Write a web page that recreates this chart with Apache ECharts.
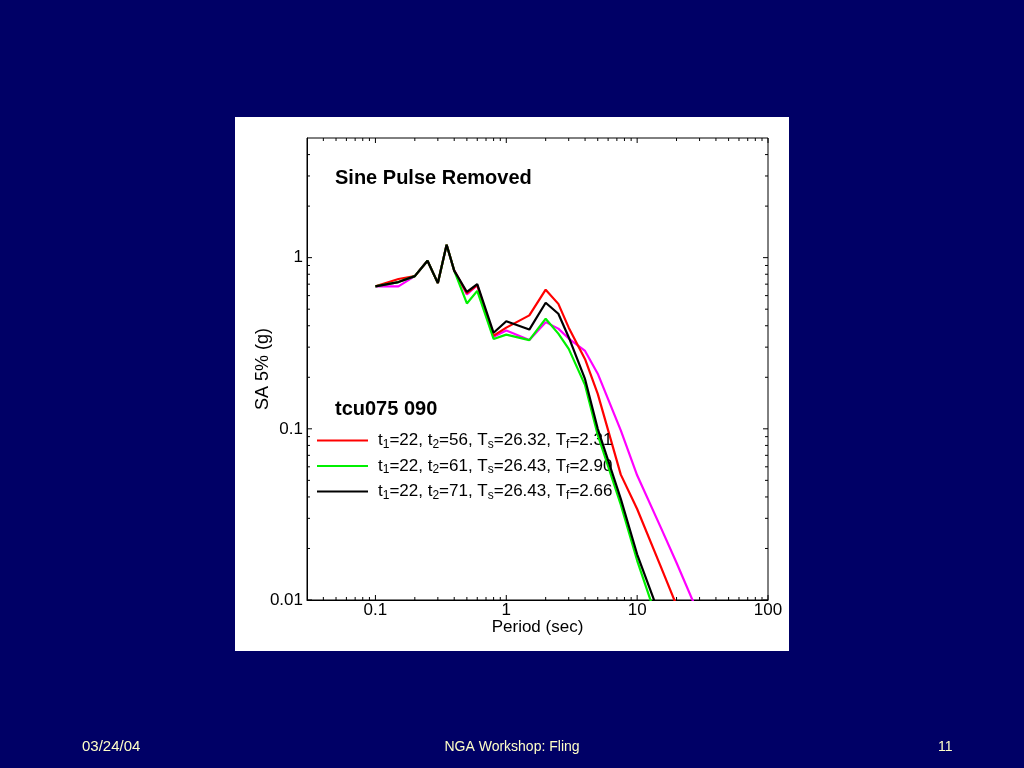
<!DOCTYPE html>
<html>
<head>
<meta charset="utf-8">
<script src="https://cdn.jsdelivr.net/npm/echarts@6/dist/echarts.min.js"></script>
<style>
html,body{margin:0;padding:0;background:#000066;}
#panel{position:absolute;left:235px;top:117px;width:554px;height:534px;background:#ffffff;}
#c{position:absolute;left:0;top:0;width:1024px;height:768px;}
</style>
</head>
<body>
<div id="panel"></div>
<div id="c"></div>
<script>
// ---- data ----
const periods = [0.1, 0.15, 0.2, 0.25, 0.3, 0.35, 0.4, 0.5, 0.6, 0.8, 1.0, 1.5, 2.0, 2.5, 3.0, 4.0, 5.0, 7.5, 10, 15, 20, 30];
const saMagenta = [0.68, 0.68, 0.78, 0.96, 0.71, 1.19, 0.84, 0.61, 0.69, 0.345, 0.375, 0.33, 0.42, 0.385, 0.337, 0.285, 0.21, 0.098, 0.0535, 0.027, 0.0165, 0.008];
const saRed     = [0.68, 0.75, 0.78, 0.96, 0.71, 1.19, 0.84, 0.62, 0.69, 0.35, 0.39, 0.46, 0.65, 0.537, 0.39, 0.255, 0.16, 0.054, 0.034, 0.016, 0.0093, 0.0045];
const saGreen   = [0.68, 0.72, 0.78, 0.96, 0.71, 1.19, 0.84, 0.54, 0.64, 0.335, 0.355, 0.33, 0.44, 0.36, 0.293, 0.18, 0.092, 0.036, 0.017, 0.0068, 0.0035, 0.0015];
const saBlack   = [0.68, 0.72, 0.78, 0.96, 0.71, 1.19, 0.84, 0.63, 0.70, 0.364, 0.425, 0.38, 0.545, 0.47, 0.343, 0.195, 0.10, 0.039, 0.0185, 0.008, 0.0042, 0.0018];

const legendT1 = ['22', '22', '22'];
const legendT2 = ['56', '61', '71'];
const legendTs = ['26.32', '26.43', '26.43'];
const legendTf = ['2.31', '2.90', '2.66'];

const X_MIN = 0.03, X_MAX = 100;
const Y_MIN = 0.01, Y_MAX = 5;
const xMajorTicks = [0.1, 1, 10, 100];
const xMinorTicks = [0.04, 0.05, 0.06, 0.07, 0.08, 0.09, 0.2, 0.3, 0.4, 0.5, 0.6, 0.7, 0.8, 0.9, 2, 3, 4, 5, 6, 7, 8, 9, 20, 30, 40, 50, 60, 70, 80, 90];
const yMajorTicks = [0.01, 0.1, 1];
const yMinorTicks = [0.02, 0.03, 0.04, 0.05, 0.06, 0.07, 0.08, 0.09, 0.2, 0.3, 0.4, 0.5, 0.6, 0.7, 0.8, 0.9, 2, 3, 4];

const titleMain = 'Sine Pulse Removed';
const titleStation = 'tcu075 090';
const footerLeft = '03/24/04', footerMid = 'NGA Workshop: Fling', footerRight = '11';

// ---- build ----
const font = '"Liberation Sans", Arial, Helvetica, sans-serif';
function pairs(vals) { return periods.map((p, i) => [p, vals[i]]); }
const seriesNames = legendT1.map((t1, i) => 't1=' + t1 + ', t2=' + legendT2[i] + ', Ts=' + legendTs[i] + ', Tf=' + legendTf[i]);
function richName(name) {
  const i = seriesNames.indexOf(name);
  return '{n|t}{s|1}{n|=' + legendT1[i] + ', t}{s|2}{n|=' + legendT2[i] + ', T}{s|s}{n|=' + legendTs[i] + ', T}{s|f}{n|=' + legendTf[i] + '}';
}
const MAJ = 5, MIN = 3;
const xTickData = xMajorTicks.map(v => [v, 1, MAJ]).concat(xMinorTicks.map(v => [v, 1, MIN]));
const yTickData = yMajorTicks.map(v => [1, v, MAJ]).concat(yMinorTicks.map(v => [1, v, MIN]));
function isDecade(v) { const l = Math.log10(v); return Math.abs(l - Math.round(l)) < 1e-6; }

function lineSeries(name, data, color, z) {
  return { type: 'line', name: name, data: pairs(data), showSymbol: false, symbol: 'none',
    lineStyle: { color: color, width: 2.2 }, itemStyle: { color: color }, z: z, clip: true, animation: false };
}

const chart = echarts.init(document.getElementById('c'), null, { renderer: 'canvas' });
chart.setOption({
  backgroundColor: 'transparent',
  animation: false,
  title: [
    { text: titleMain, left: 335, top: 168, padding: 0, textStyle: { fontFamily: font, fontSize: 20, fontWeight: 'bold', color: '#000' } },
    { text: titleStation, left: 335, top: 399, padding: 0, textStyle: { fontFamily: font, fontSize: 20, fontWeight: 'bold', color: '#000' } }
  ],
  legend: {
    data: seriesNames, orient: 'vertical', left: 317, top: 432, padding: 0,
    itemWidth: 51, itemHeight: 2, itemGap: 7,
    icon: 'path://M0,0L51,0L51,2L0,2Z',
    formatter: richName, selectedMode: false,
    textStyle: { fontFamily: font, color: '#000', padding: [0, 0, 0, 5],
      rich: { n: { fontFamily: font, fontSize: 17, lineHeight: 20, color: '#000' },
              s: { fontFamily: font, fontSize: 12, lineHeight: 8, verticalAlign: 'bottom', color: '#000' } } }
  },
  grid: { left: 307, top: 138, width: 461, height: 462, show: true, borderColor: '#000', borderWidth: 1, backgroundColor: '#fff' },
  xAxis: {
    type: 'log', logBase: 10, min: X_MIN, max: X_MAX,
    axisLine: { show: true, lineStyle: { color: '#000', width: 1 } },
    axisTick: { show: false }, splitLine: { show: false },
    axisLabel: { color: '#000', fontFamily: font, fontSize: 17, margin: 2, formatter: v => isDecade(v) ? String(v) : '' },
    name: 'Period (sec)', nameLocation: 'middle', nameGap: 19, nameMoveOverlap: false,
    nameTextStyle: { color: '#000', fontFamily: font, fontSize: 17 }
  },
  yAxis: {
    type: 'log', logBase: 10, min: Y_MIN, max: Y_MAX,
    axisLine: { show: true, lineStyle: { color: '#000', width: 1 } },
    axisTick: { show: false }, splitLine: { show: false },
    axisLabel: { color: '#000', fontFamily: font, fontSize: 17, margin: 4, formatter: v => isDecade(v) ? String(v) : '' },
    name: 'SA 5% (g)', nameLocation: 'middle', nameGap: 35, nameMoveOverlap: false,
    nameTextStyle: { color: '#000', fontFamily: font, fontSize: 18 }
  },
  graphic: [
    { type: 'text', left: 82, top: 739, style: { text: footerLeft, fill: '#ffffc8', font: '15px ' + font } },
    { type: 'text', left: 'center', top: 740, style: { text: footerMid, fill: '#ffffc8', font: '14px ' + font } },
    { type: 'text', left: 938, top: 740, style: { text: footerRight, fill: '#ffffc8', font: '14px ' + font } }
  ],
  series: [
    lineSeries('original', saMagenta, '#ff00ff', 2),
    lineSeries(seriesNames[0], saRed, '#ff0000', 3),
    lineSeries(seriesNames[1], saGreen, '#00f000', 4),
    lineSeries(seriesNames[2], saBlack, '#000000', 5),
    { type: 'custom', silent: true, clip: false, z: 10, data: xTickData, encode: { x: 0, y: 1 },
      renderItem: function (params, api) {
        const v = api.value(0), L = api.value(2);
        const b = api.coord([v, Y_MIN]), t = api.coord([v, Y_MAX]);
        return { type: 'group', children: [
          { type: 'line', shape: { x1: b[0], y1: b[1], x2: b[0], y2: b[1] - L }, style: { stroke: '#000', lineWidth: 1 } },
          { type: 'line', shape: { x1: t[0], y1: t[1], x2: t[0], y2: t[1] + L }, style: { stroke: '#000', lineWidth: 1 } }
        ] };
      } },
    { type: 'custom', silent: true, clip: false, z: 10, data: yTickData, encode: { x: 0, y: 1 },
      renderItem: function (params, api) {
        const v = api.value(1), L = api.value(2);
        const l = api.coord([X_MIN, v]), r = api.coord([X_MAX, v]);
        return { type: 'group', children: [
          { type: 'line', shape: { x1: l[0], y1: l[1], x2: l[0] + L, y2: l[1] }, style: { stroke: '#000', lineWidth: 1 } },
          { type: 'line', shape: { x1: r[0], y1: r[1], x2: r[0] - L, y2: r[1] }, style: { stroke: '#000', lineWidth: 1 } }
        ] };
      } }
  ]
});
</script>
</body>
</html>
